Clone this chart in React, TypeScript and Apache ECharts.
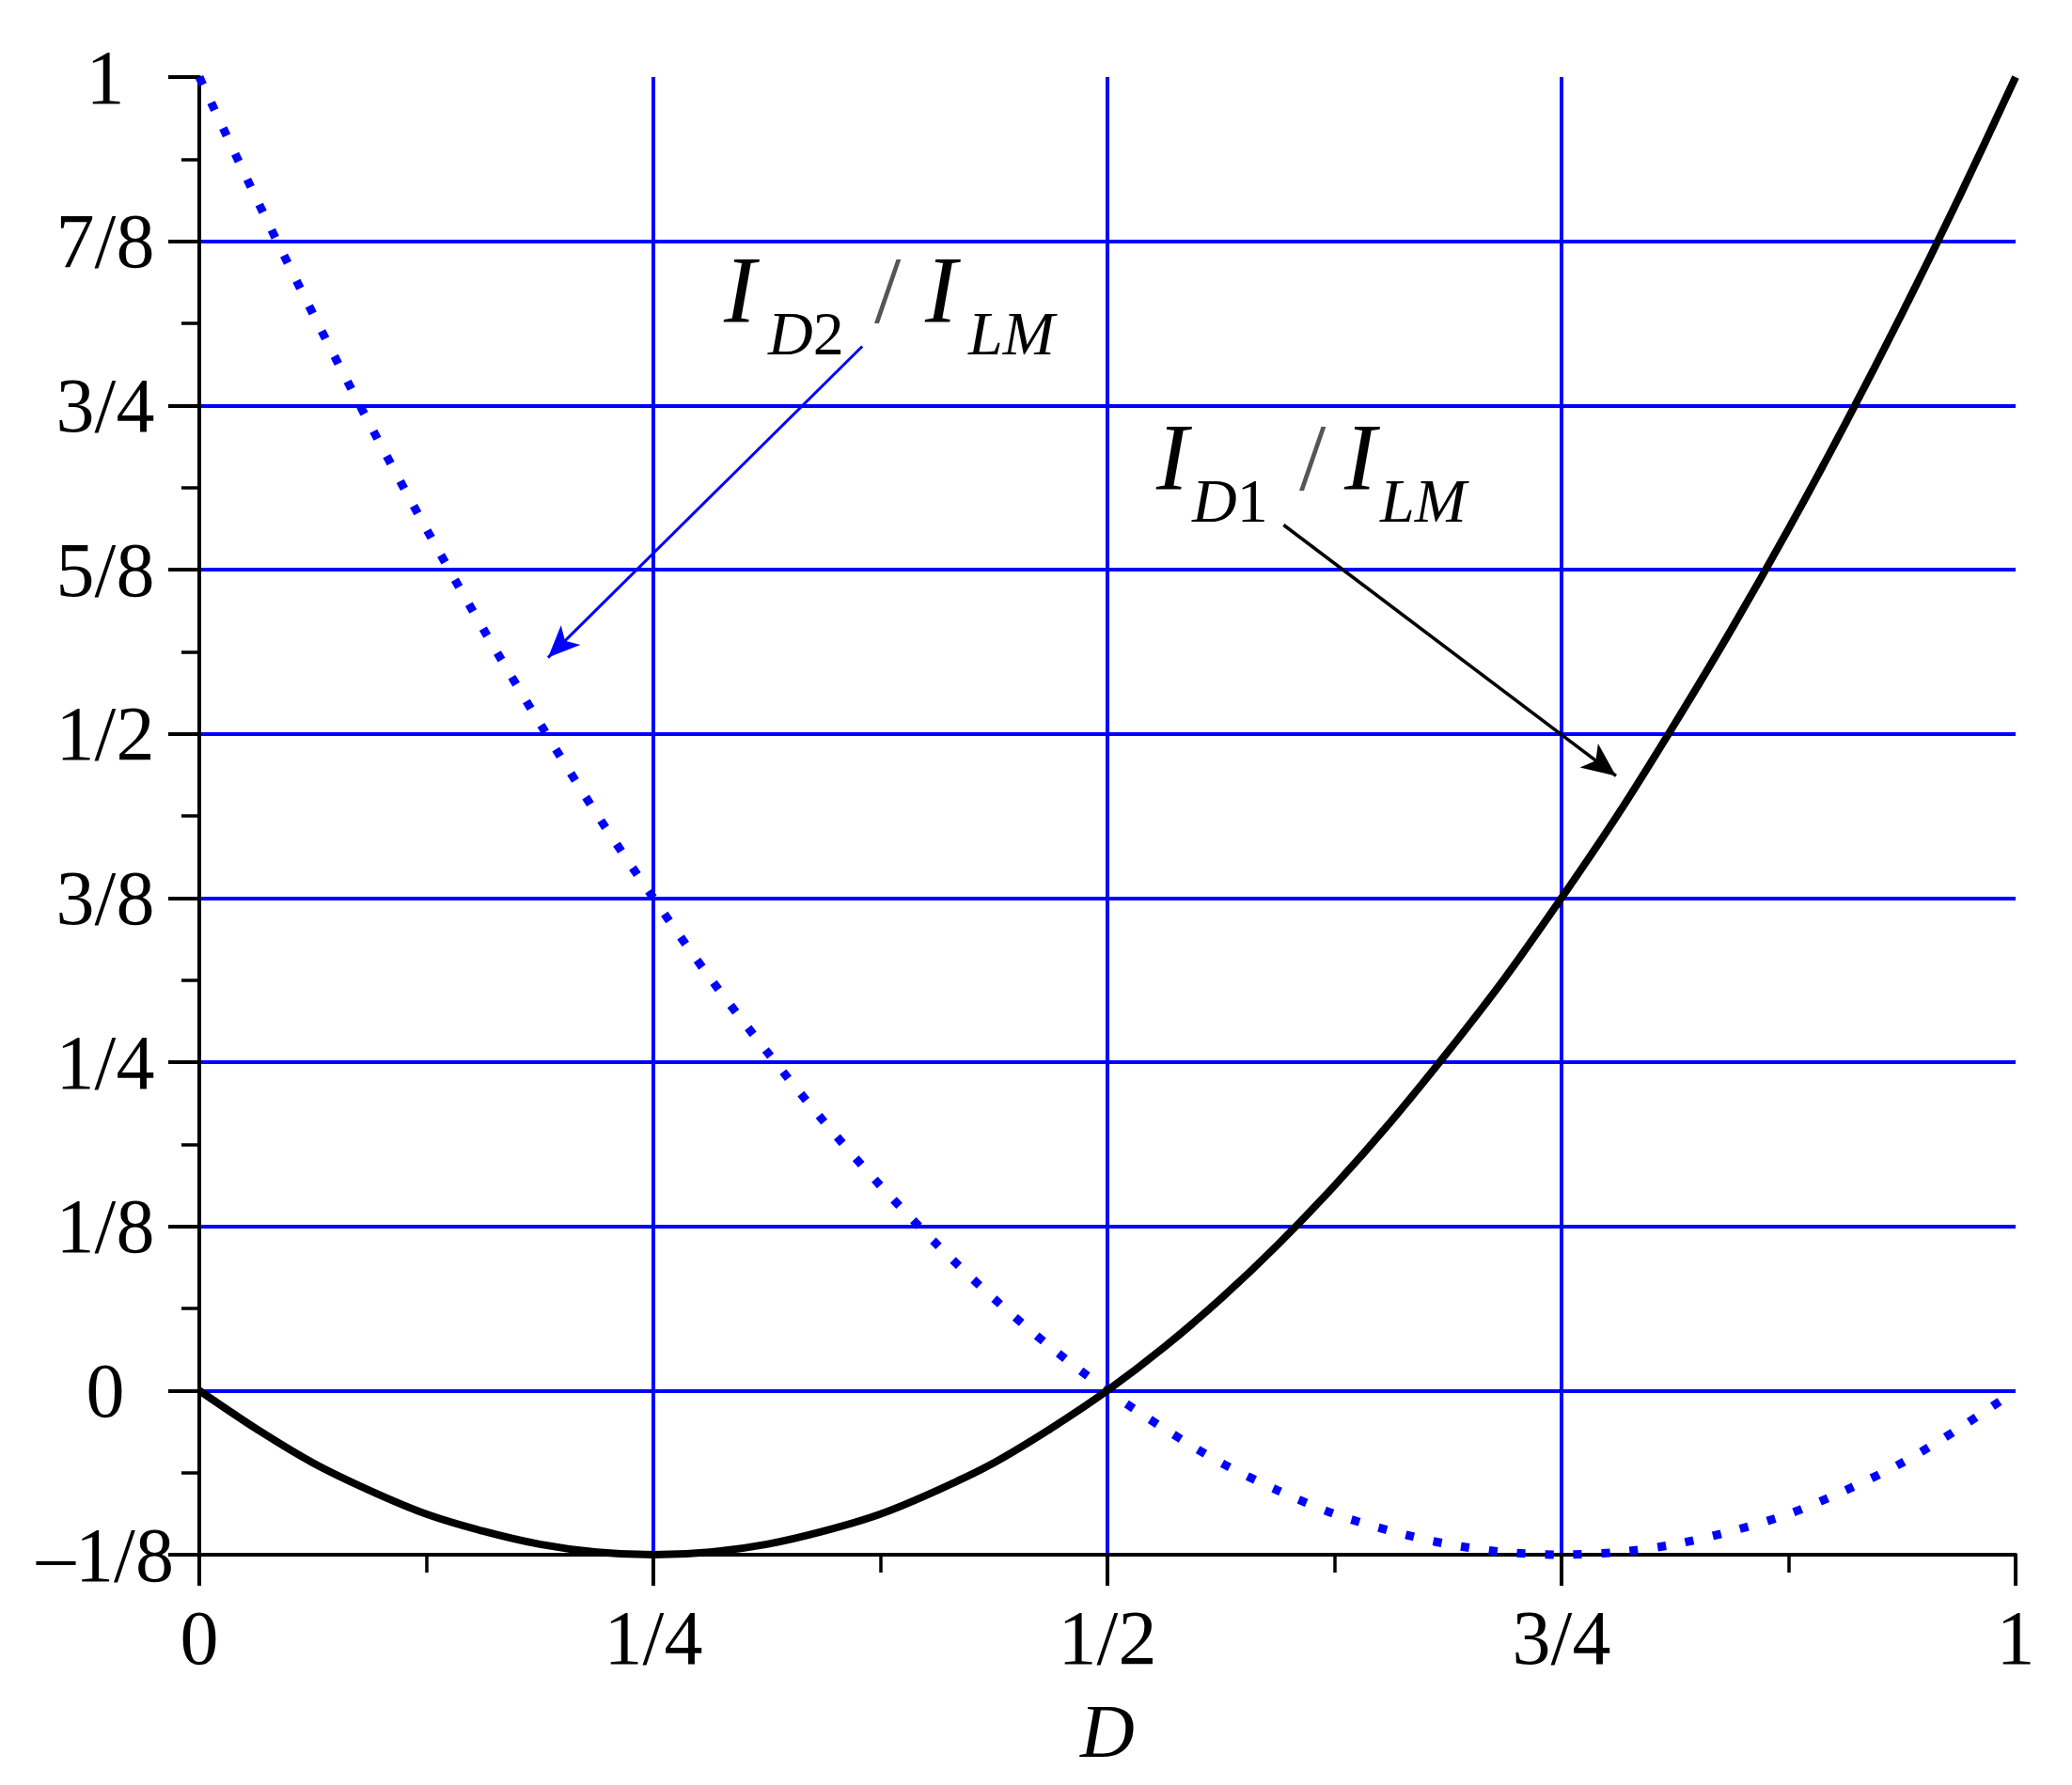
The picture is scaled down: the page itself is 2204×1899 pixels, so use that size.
import React, { useEffect, useRef } from 'react';
import * as echarts from 'echarts';

// Duty ratio D (x) and the two normalised currents
const dValues = [
  0, 0.03125, 0.0625, 0.09375, 0.125, 0.15625, 0.1875, 0.21875, 0.25, 0.28125, 0.3125, 0.34375, 0.375, 0.40625, 0.4375, 0.46875,
  0.5, 0.53125, 0.5625, 0.59375, 0.625, 0.65625, 0.6875, 0.71875, 0.75, 0.78125, 0.8125, 0.84375, 0.875, 0.90625, 0.9375, 0.96875, 1,
];
const id1Values = [
  0, -0.029, -0.055, -0.076, -0.094, -0.107, -0.117, -0.123, -0.125, -0.123, -0.117, -0.107, -0.094, -0.076, -0.055, -0.029,
  0, 0.033, 0.070, 0.111, 0.156, 0.205, 0.258, 0.314, 0.375, 0.439, 0.508, 0.580, 0.656, 0.736, 0.820, 0.908, 1,
];
const id2Values = [
  1, 0.908, 0.820, 0.736, 0.656, 0.580, 0.508, 0.439, 0.375, 0.314, 0.258, 0.205, 0.156, 0.111, 0.070, 0.033,
  0, -0.029, -0.055, -0.076, -0.094, -0.107, -0.117, -0.123, -0.125, -0.123, -0.117, -0.107, -0.094, -0.076, -0.055, -0.029, 0,
];

const xTickValues = [0, 0.25, 0.5, 0.75, 1];
const xTickLabels = ['0', '1/4', '1/2', '3/4', '1'];
const yTickValues = [-0.125, 0, 0.125, 0.25, 0.375, 0.5, 0.625, 0.75, 0.875, 1];
const yTickLabels = ['\u20131/8', '0', '1/8', '1/4', '3/8', '1/2', '5/8', '3/4', '7/8', '1'];

// annotation arrows in data coordinates: [from, to]
const arrowD2 = [[0.365, 0.795], [0.192, 0.558]];
const arrowD1 = [[0.597, 0.659], [0.78, 0.468]];

const FONT = "'Liberation Serif', 'Times New Roman', serif";

const fmt = (vals: number[], labels: string[]) => (v: number) => {
  const i = vals.findIndex((t) => Math.abs(t - v) < 1e-9);
  return i >= 0 ? labels[i] : '';
};

function labelPieces(yMain: number, ySub: number, sub: [string, string], xs: number[]) {
  const big = 102;
  const small = 66;
  const base = { fontFamily: FONT, fill: '#000', verticalAlign: 'middle', align: 'left' };
  return [
    { type: 'text', x: xs[0], y: yMain, style: { ...base, text: 'I', fontSize: big, fontStyle: 'italic' } },
    {
      type: 'text', x: xs[1], y: ySub,
      style: {
        ...base, text: `{a|${sub[0]}}{b|${sub[1]}}`,
        rich: {
          a: { fontFamily: FONT, fontSize: small, fontStyle: 'italic', fill: '#000' },
          b: { fontFamily: FONT, fontSize: small, fill: '#000' },
        },
      },
    },
    { type: 'text', x: xs[2], y: yMain, style: { ...base, text: '/', fontSize: big, fill: '#555' } },
    { type: 'text', x: xs[3], y: yMain, style: { ...base, text: 'I', fontSize: big, fontStyle: 'italic' } },
    { type: 'text', x: xs[4], y: ySub, style: { ...base, text: 'LM', fontSize: small, fontStyle: 'italic' } },
  ];
}

export default function App() {
  const ref = useRef<HTMLDivElement>(null);
  useEffect(() => {
    document.body.style.margin = '0';
    document.body.style.overflow = 'hidden';
    const chart = echarts.init(ref.current!, null, { renderer: 'svg' });
    const axisCommon = {
      type: 'value',
      axisLine: { show: true, onZero: false, lineStyle: { color: '#000', width: 4 } },
      axisTick: { show: true, inside: false, length: 33, lineStyle: { color: '#000', width: 4 } },
      minorTick: { show: true, splitNumber: 2, length: 19, lineStyle: { color: '#000', width: 3.5 } },
      splitLine: { show: true, showMinLine: false, showMaxLine: false, lineStyle: { color: '#0000ff', width: 4 } },
    };
    const option: any = {
      animation: false,
      backgroundColor: '#fff',
      grid: { left: 212, top: 82, right: 60, bottom: 245, containLabel: false, outerBoundsMode: 'none' },
      xAxis: {
        ...axisCommon,
        min: 0, max: 1, interval: 0.25,
        axisLabel: { margin: 47, fontSize: 82, fontFamily: FONT, color: '#000', formatter: fmt(xTickValues, xTickLabels) },
        name: 'D',
        nameLocation: 'middle',
        nameGap: 148,
        nameTextStyle: { fontSize: 80, fontFamily: FONT, fontStyle: 'italic', color: '#000' },
      },
      yAxis: {
        ...axisCommon,
        min: -0.125, max: 1, interval: 0.125,
        axisLabel: { margin: 100, align: 'center', fontSize: 82, fontFamily: FONT, color: '#000', formatter: fmt(yTickValues, yTickLabels) },
      },
      series: [
        {
          name: 'ID2/ILM',
          type: 'line',
          data: dValues.map((d, i) => [d, id2Values[i]]),
          smooth: 0.3,
          showSymbol: false,
          clip: false,
          lineStyle: { color: '#0000ff', width: 9, type: [9, 21], cap: 'butt' },
          z: 3,
          markLine: {
            silent: true,
            symbol: ['none', 'arrow'],
            symbolSize: [22, 34],
            label: { show: false },
            lineStyle: { color: '#0000ff', width: 3, type: 'solid' },
            data: [[{ coord: arrowD2[0] }, { coord: arrowD2[1] }]],
          },
        },
        {
          name: 'ID1/ILM',
          type: 'line',
          data: dValues.map((d, i) => [d, id1Values[i]]),
          smooth: 0.3,
          showSymbol: false,
          clip: false,
          lineStyle: { color: '#000', width: 8 },
          z: 4,
          markLine: {
            silent: true,
            symbol: ['none', 'arrow'],
            symbolSize: [24, 36],
            label: { show: false },
            lineStyle: { color: '#000', width: 3.5, type: 'solid' },
            data: [[{ coord: arrowD1[0] }, { coord: arrowD1[1] }]],
          },
        },
      ],
      graphic: [
        ...labelPieces(308, 354, ['D', '2'], [770, 817, 930, 984, 1030]),
        ...labelPieces(486, 532, ['D', '1'], [1230, 1268, 1382, 1430, 1468]),
      ],
    };
    chart.setOption(option);
    return () => chart.dispose();
  }, []);
  return <div ref={ref} style={{ width: 2204, height: 1899 }} />;
}
